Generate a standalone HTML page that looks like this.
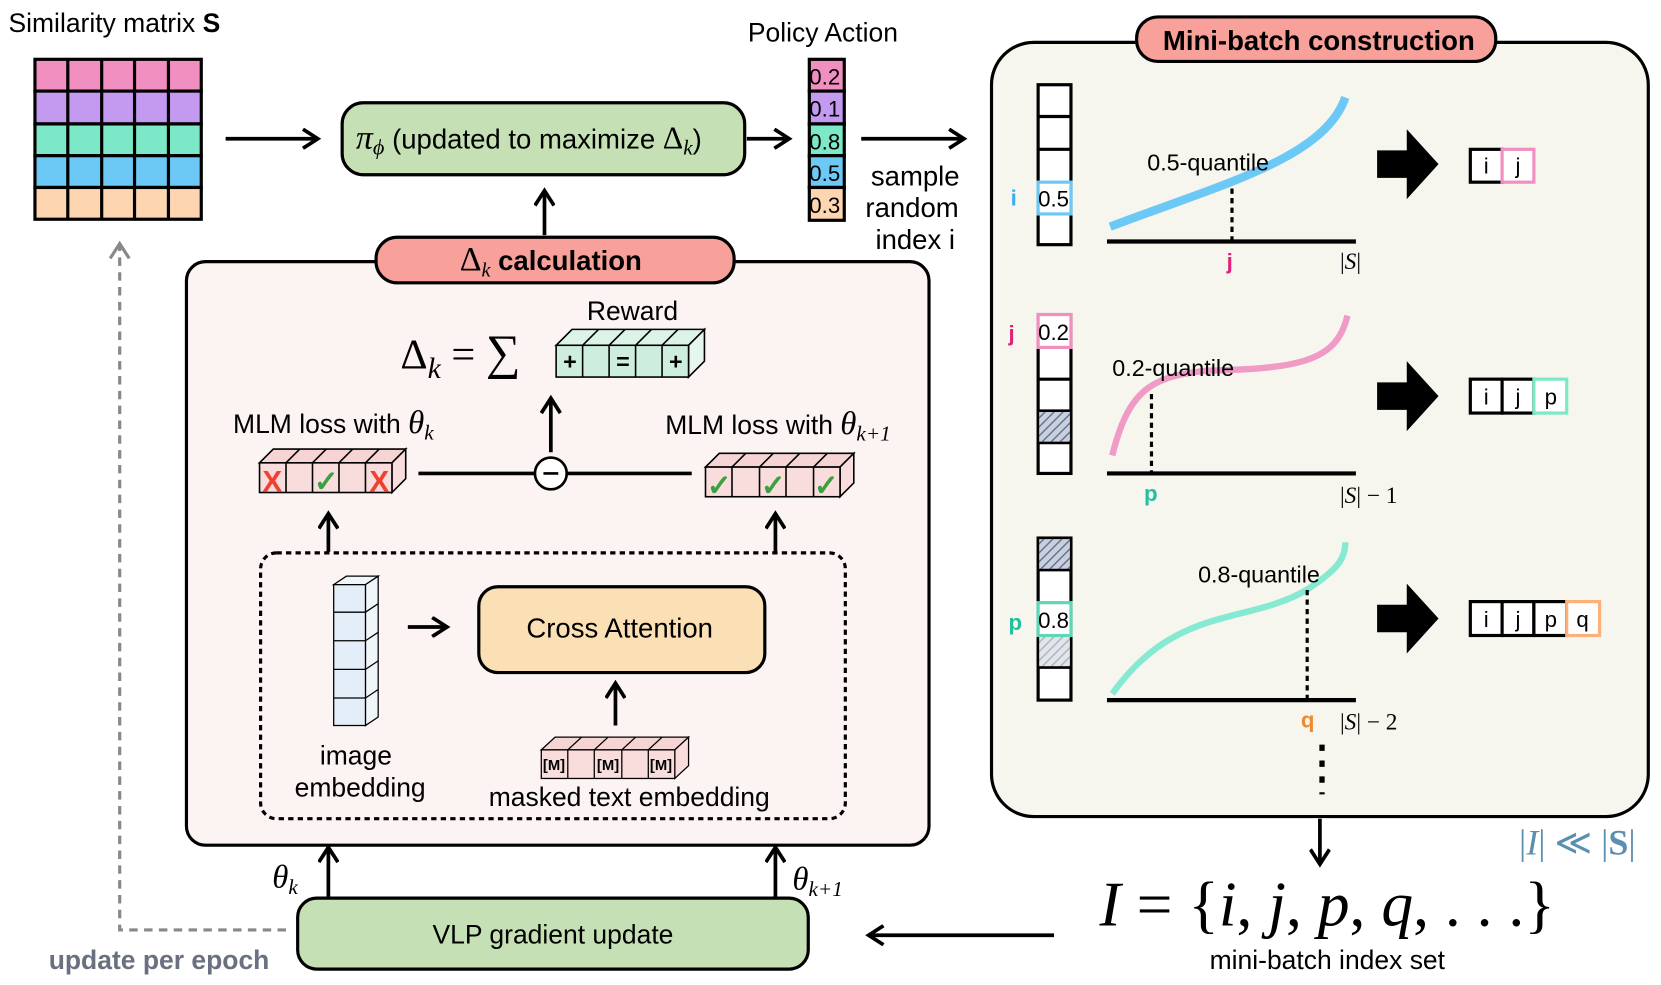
<!DOCTYPE html>
<html><head><meta charset="utf-8"><style>
html,body{margin:0;padding:0;background:#fff;width:1661px;height:985px;overflow:hidden}
svg{display:block}
text{font-family:"Liberation Sans",sans-serif;fill:#000}
.m{font-family:"Liberation Serif",serif}
</style></head><body>
<svg width="1661" height="985" viewBox="0 0 1568 930" preserveAspectRatio="none" xmlns="http://www.w3.org/2000/svg">
<defs>
<marker id="ah" viewBox="0 0 20 20" refX="14" refY="10" markerWidth="20" markerHeight="20" markerUnits="userSpaceOnUse" orient="auto"><path d="M2,1 L16,10 L2,19" fill="none" stroke="#000" stroke-width="3.5"/></marker>
<marker id="ahg" viewBox="0 0 20 20" refX="14" refY="10" markerWidth="20" markerHeight="20" markerUnits="userSpaceOnUse" orient="auto"><path d="M2,1 L16,10 L2,19" fill="none" stroke="#888" stroke-width="3"/></marker>
<pattern id="hat" width="6" height="6" patternUnits="userSpaceOnUse" patternTransform="rotate(45)"><rect width="6" height="6" fill="#c9cfdc"/><line x1="0" y1="0" x2="0" y2="6" stroke="#5a6a8a" stroke-width="2.5"/></pattern>
<pattern id="hat2" width="6" height="6" patternUnits="userSpaceOnUse" patternTransform="rotate(45)"><rect width="6" height="6" fill="#e2e5ea"/><line x1="0" y1="0" x2="0" y2="6" stroke="#a8afbd" stroke-width="2.5"/></pattern>
</defs>

<!-- Similarity matrix -->
<text x="8" y="30" font-size="25">Similarity matrix <tspan font-weight="bold">S</tspan></text>
<g stroke="#000" stroke-width="3">
<rect x="33" y="56" width="157" height="30" fill="#f08fc0"/>
<rect x="33" y="86" width="157" height="31" fill="#c49af0"/>
<rect x="33" y="117" width="157" height="30" fill="#7de8c8"/>
<rect x="33" y="147" width="157" height="30" fill="#6cc8f5"/>
<rect x="33" y="177" width="157" height="30" fill="#fdd5b0"/>
<line x1="64" y1="56" x2="64" y2="207"/><line x1="96" y1="56" x2="96" y2="207"/><line x1="127" y1="56" x2="127" y2="207"/><line x1="159" y1="56" x2="159" y2="207"/>
</g>
<line x1="213" y1="131" x2="298" y2="131" stroke="#000" stroke-width="3.5" marker-end="url(#ah)"/>

<!-- policy box -->
<rect x="323" y="97" width="380" height="68" rx="20" fill="#c5e0b4" stroke="#000" stroke-width="3"/>
<text x="336" y="140" font-size="26"><tspan class="m" font-style="italic" font-size="32">π</tspan><tspan class="m" font-style="italic" font-size="21" dy="6">ϕ</tspan><tspan dy="-6"> (updated to maximize </tspan><tspan class="m" font-size="30">Δ</tspan><tspan class="m" font-style="italic" font-size="20" dy="6">k</tspan><tspan dy="-6">)</tspan></text>
<line x1="705" y1="131" x2="743" y2="131" stroke="#000" stroke-width="3.5" marker-end="url(#ah)"/>

<text x="706" y="39" font-size="25">Policy Action</text>
<g stroke="#000" stroke-width="3">
<rect x="764" y="56" width="33" height="30" fill="#f08fc0"/>
<rect x="764" y="86" width="33" height="31" fill="#c49af0"/>
<rect x="764" y="117" width="33" height="30" fill="#7de8c8"/>
<rect x="764" y="147" width="33" height="30" fill="#6cc8f5"/>
<rect x="764" y="177" width="33" height="31" fill="#fdd5b0"/>
</g>
<g font-size="21"><text x="764" y="80">0.2</text><text x="764" y="110">0.1</text><text x="764" y="141">0.8</text><text x="764" y="171">0.5</text><text x="764" y="201">0.3</text></g>
<line x1="813" y1="131" x2="908" y2="131" stroke="#000" stroke-width="3.5" marker-end="url(#ah)"/>
<g font-size="26" text-anchor="middle"><text x="864" y="175">sample</text><text x="861" y="205">random</text><text x="864" y="235">index i</text></g>

<!-- left big box -->
<line x1="514" y1="222" x2="514" y2="182" stroke="#000" stroke-width="3.5" marker-end="url(#ah)"/>
<rect x="176" y="247" width="701" height="551" rx="18" fill="#fbf4f3" stroke="#000" stroke-width="3"/>
<rect x="355" y="224" width="338" height="43" rx="20" fill="#f8a09a" stroke="#000" stroke-width="3"/>
<text x="434" y="255" font-size="26" font-weight="bold"><tspan class="m" font-weight="normal" font-size="32">Δ</tspan><tspan class="m" font-weight="normal" font-style="italic" font-size="19" dy="6">k</tspan><tspan dy="-6"> calculation</tspan></text>

<text x="554" y="302" font-size="25">Reward</text>
<text x="378" y="348" class="m" font-size="40">Δ<tspan font-style="italic" font-size="28" dy="9">k</tspan><tspan dy="-9"> = </tspan><tspan font-size="46">∑</tspan></text>
<!-- reward block -->
<g stroke="#000" stroke-width="1.5">
<polygon points="525,326 540,311 665,311 650,326" fill="#dcf3e8"/>
<polygon points="650,326 665,311 665,341 650,356" fill="#e4f6ee"/>
<rect x="525" y="326" width="125" height="30" fill="#cdeedd"/>
<line x1="550" y1="326" x2="550" y2="356"/><line x1="575" y1="326" x2="575" y2="356"/><line x1="600" y1="326" x2="600" y2="356"/><line x1="625" y1="326" x2="625" y2="356"/>
<line x1="550" y1="326" x2="565" y2="311"/><line x1="575" y1="326" x2="590" y2="311"/><line x1="600" y1="326" x2="615" y2="311"/><line x1="625" y1="326" x2="640" y2="311"/>
</g>
<g font-size="22" font-weight="bold" text-anchor="middle"><text x="538" y="349">+</text><text x="588" y="349">=</text><text x="638" y="349">+</text></g>
<line x1="520" y1="427" x2="520" y2="378" stroke="#000" stroke-width="3.5" marker-end="url(#ah)"/>

<text x="220" y="409" font-size="25">MLM loss with <tspan class="m" font-style="italic" font-size="31">θ</tspan><tspan class="m" font-style="italic" font-size="20" dy="6">k</tspan></text>
<text x="628" y="410" font-size="25">MLM loss with <tspan class="m" font-style="italic" font-size="31">θ</tspan><tspan class="m" font-style="italic" font-size="20" dy="6">k+1</tspan></text>

<!-- left MLM block -->
<g stroke="#000" stroke-width="1.5">
<polygon points="245,437 258,424 383,424 370,437" fill="#f7d4d4"/>
<polygon points="370,437 383,424 383,452 370,465" fill="#f9dcdc"/>
<rect x="245" y="437" width="125" height="28" fill="#f9dcdc"/>
<line x1="270" y1="437" x2="270" y2="465"/><line x1="295" y1="437" x2="295" y2="465"/><line x1="320" y1="437" x2="320" y2="465"/><line x1="345" y1="437" x2="345" y2="465"/>
<line x1="270" y1="437" x2="283" y2="424"/><line x1="295" y1="437" x2="308" y2="424"/><line x1="320" y1="437" x2="333" y2="424"/><line x1="345" y1="437" x2="358" y2="424"/>
</g>
<g font-size="28" font-weight="bold" text-anchor="middle"><text x="257" y="464" style="fill:#f04030">X</text><text x="358" y="464" style="fill:#f04030">X</text><text x="308" y="464" style="fill:#3aa040">✓</text></g>
<!-- right MLM block -->
<g stroke="#000" stroke-width="1.5">
<polygon points="666,441 679,428 806,428 793,441" fill="#f7d4d4"/>
<polygon points="793,441 806,428 806,456 793,469" fill="#f9dcdc"/>
<rect x="666" y="441" width="127" height="28" fill="#f9dcdc"/>
<line x1="691" y1="441" x2="691" y2="469"/><line x1="717" y1="441" x2="717" y2="469"/><line x1="742" y1="441" x2="742" y2="469"/><line x1="768" y1="441" x2="768" y2="469"/>
<line x1="691" y1="441" x2="704" y2="428"/><line x1="717" y1="441" x2="730" y2="428"/><line x1="742" y1="441" x2="755" y2="428"/><line x1="768" y1="441" x2="781" y2="428"/>
</g>
<g font-size="28" font-weight="bold" text-anchor="middle"><text x="679" y="468" style="fill:#3aa040">✓</text><text x="730" y="468" style="fill:#3aa040">✓</text><text x="780" y="468" style="fill:#3aa040">✓</text></g>

<line x1="395" y1="447" x2="505" y2="447" stroke="#000" stroke-width="3.5"/>
<line x1="535" y1="447" x2="653" y2="447" stroke="#000" stroke-width="3.5"/>
<circle cx="520" cy="447" r="15" fill="#fff" stroke="#000" stroke-width="2.5"/>
<line x1="513" y1="447" x2="527" y2="447" stroke="#000" stroke-width="2.5"/>

<line x1="310" y1="521" x2="310" y2="487" stroke="#000" stroke-width="3.5" marker-end="url(#ah)"/>
<line x1="732" y1="521" x2="732" y2="487" stroke="#000" stroke-width="3.5" marker-end="url(#ah)"/>
<rect x="246" y="522" width="552" height="251" rx="15" fill="none" stroke="#000" stroke-width="3" stroke-dasharray="5,4"/>

<!-- image embedding column -->
<g stroke="#000" stroke-width="1.2">
<polygon points="315,552 327,544 357,544 345,552" fill="#f0f5fa"/>
<polygon points="345,552 357,544 357,677 345,685" fill="#f0f5fa"/>
<rect x="315" y="552" width="30" height="133" fill="#e3eef8"/>
<line x1="315" y1="578" x2="345" y2="578"/><line x1="315" y1="605" x2="345" y2="605"/><line x1="315" y1="632" x2="345" y2="632"/><line x1="315" y1="659" x2="345" y2="659"/>
<line x1="345" y1="578" x2="357" y2="570"/><line x1="345" y1="605" x2="357" y2="597"/><line x1="345" y1="632" x2="357" y2="624"/><line x1="345" y1="659" x2="357" y2="651"/>
</g>
<text x="336" y="722" font-size="25" text-anchor="middle">image</text>
<text x="340" y="752" font-size="25" text-anchor="middle">embedding</text>
<line x1="385" y1="592" x2="420" y2="592" stroke="#000" stroke-width="3.5" marker-end="url(#ah)"/>
<rect x="452" y="554" width="270" height="81" rx="18" fill="#fce0b5" stroke="#000" stroke-width="3"/>
<text x="585" y="602" font-size="26" text-anchor="middle">Cross Attention</text>
<line x1="581" y1="685" x2="581" y2="647" stroke="#000" stroke-width="3.5" marker-end="url(#ah)"/>
<!-- masked text block -->
<g stroke="#000" stroke-width="1.2">
<polygon points="511,708 524,696 650,696 637,708" fill="#f7d4d4"/>
<polygon points="637,708 650,696 650,723 637,735" fill="#f9dcdc"/>
<rect x="511" y="708" width="126" height="27" fill="#f9dcdc"/>
<line x1="536" y1="708" x2="536" y2="735"/><line x1="561" y1="708" x2="561" y2="735"/><line x1="587" y1="708" x2="587" y2="735"/><line x1="612" y1="708" x2="612" y2="735"/>
<line x1="536" y1="708" x2="549" y2="696"/><line x1="561" y1="708" x2="574" y2="696"/><line x1="587" y1="708" x2="600" y2="696"/><line x1="612" y1="708" x2="625" y2="696"/>
</g>
<g font-size="14" font-weight="bold" text-anchor="middle"><text x="523" y="727">[M]</text><text x="574" y="727">[M]</text><text x="624" y="727">[M]</text></g>
<text x="594" y="761" font-size="25" text-anchor="middle">masked text embedding</text>

<!-- bottom -->
<line x1="310" y1="848" x2="310" y2="802" stroke="#000" stroke-width="3.5" marker-end="url(#ah)"/>
<line x1="732" y1="848" x2="732" y2="802" stroke="#000" stroke-width="3.5" marker-end="url(#ah)"/>
<text x="257" y="838" class="m" font-style="italic" font-size="31">θ<tspan font-size="20" dy="6">k</tspan></text>
<text x="748" y="840" class="m" font-style="italic" font-size="31">θ<tspan font-size="20" dy="6">k+1</tspan></text>
<rect x="281" y="848" width="482" height="67" rx="18" fill="#c5e0b4" stroke="#000" stroke-width="3"/>
<text x="522" y="891" font-size="25" text-anchor="middle">VLP gradient update</text>
<polyline points="270,878 113,878 113,232" fill="none" stroke="#888" stroke-width="3" stroke-dasharray="8,6" marker-end="url(#ahg)"/>
<text x="46" y="915" font-size="25" font-weight="bold" style="fill:#6b7080">update per epoch</text>
<line x1="995" y1="883" x2="822" y2="883" stroke="#000" stroke-width="3.5" marker-end="url(#ah)"/>

<!-- right panel -->
<rect x="936" y="40" width="620" height="731" rx="40" fill="#f6f6ee" stroke="#000" stroke-width="3"/>
<rect x="1073" y="16" width="339" height="42" rx="20" fill="#f8a09a" stroke="#000" stroke-width="3"/>
<text x="1245" y="47" font-size="26" font-weight="bold" text-anchor="middle">Mini-batch construction</text>

<!-- section 1 -->
<g stroke="#000" stroke-width="3" fill="#fff">
<rect x="980" y="80" width="31" height="151"/>
<line x1="980" y1="110" x2="1011" y2="110"/><line x1="980" y1="141" x2="1011" y2="141"/><line x1="980" y1="202" x2="1011" y2="202"/>
</g>
<rect x="980" y="172" width="31" height="30" fill="#fff" stroke="#6cc8f5" stroke-width="3"/>
<text x="980" y="195" font-size="21">0.5</text>
<text x="954" y="194" font-size="21" font-weight="bold" style="fill:#3ab0f0">i</text>
<path d="M1048,214 C1150,175 1250,150 1270,92" fill="none" stroke="#6cc8f5" stroke-width="8"/>
<line x1="1045" y1="228" x2="1280" y2="228" stroke="#000" stroke-width="4"/>
<line x1="1163" y1="178" x2="1163" y2="228" stroke="#000" stroke-width="3" stroke-dasharray="5,4"/>
<text x="1083" y="161" font-size="22">0.5-quantile</text>
<text x="1158" y="254" font-size="21" font-weight="bold" style="fill:#e0207a">j</text>
<text x="1265" y="254" class="m" font-size="22">|<tspan font-style="italic">S</tspan>|</text>
<polygon points="1300,142 1328,142 1328,122 1358,155 1328,188 1328,168 1300,168" fill="#000"/>
<rect x="1388" y="141" width="30" height="31" fill="#fff" stroke="#000" stroke-width="3"/>
<rect x="1418" y="141" width="30" height="31" fill="#fff" stroke="#f08fc0" stroke-width="3"/>
<text x="1403" y="164" font-size="21" text-anchor="middle">i</text><text x="1433" y="164" font-size="21" text-anchor="middle">j</text>

<!-- section 2 -->
<g stroke="#000" stroke-width="3" fill="#fff">
<rect x="980" y="297" width="31" height="150"/>
<line x1="980" y1="358" x2="1011" y2="358"/><line x1="980" y1="388" x2="1011" y2="388"/><line x1="980" y1="418" x2="1011" y2="418"/>
</g>
<rect x="981" y="389" width="29" height="28" fill="url(#hat)"/>
<rect x="980" y="297" width="31" height="31" fill="#fff" stroke="#f08fc0" stroke-width="3"/>
<text x="980" y="321" font-size="21">0.2</text>
<text x="952" y="322" font-size="21" font-weight="bold" style="fill:#e0207a">j</text>
<path d="M1050,430 C1065,370 1085,355 1140,350 C1230,348 1262,340 1272,298" fill="none" stroke="#f09ac6" stroke-width="6"/>
<line x1="1045" y1="447" x2="1280" y2="447" stroke="#000" stroke-width="4"/>
<line x1="1087" y1="372" x2="1087" y2="447" stroke="#000" stroke-width="3" stroke-dasharray="5,4"/>
<text x="1050" y="355" font-size="22">0.2-quantile</text>
<text x="1080" y="473" font-size="21" font-weight="bold" style="fill:#20c0a0">p</text>
<text x="1265" y="475" class="m" font-size="22">|<tspan font-style="italic">S</tspan>| − 1</text>
<polygon points="1300,361 1328,361 1328,341 1358,374 1328,407 1328,387 1300,387" fill="#000"/>
<rect x="1388" y="358" width="30" height="32" fill="#fff" stroke="#000" stroke-width="3"/>
<rect x="1418" y="358" width="30" height="32" fill="#fff" stroke="#000" stroke-width="3"/>
<rect x="1448" y="358" width="31" height="32" fill="#fff" stroke="#7de8c8" stroke-width="3"/>
<text x="1403" y="382" font-size="21" text-anchor="middle">i</text><text x="1433" y="382" font-size="21" text-anchor="middle">j</text><text x="1464" y="382" font-size="21" text-anchor="middle">p</text>

<!-- section 3 -->
<g stroke="#000" stroke-width="3" fill="#fff">
<rect x="980" y="508" width="31" height="153"/>
<line x1="980" y1="538" x2="1011" y2="538"/><line x1="980" y1="630" x2="1011" y2="630"/>
</g>
<rect x="981" y="509" width="29" height="28" fill="url(#hat)"/>
<rect x="981" y="600" width="29" height="29" fill="url(#hat2)"/>
<rect x="980" y="569" width="31" height="31" fill="#fff" stroke="#5cd8b8" stroke-width="3"/>
<text x="980" y="593" font-size="21">0.8</text>
<text x="952" y="595" font-size="21" font-weight="bold" style="fill:#20c0a0">p</text>
<path d="M1050,655 C1110,570 1180,590 1235,556 C1262,538 1270,528 1270,512" fill="none" stroke="#86ead2" stroke-width="6"/>
<line x1="1045" y1="661" x2="1280" y2="661" stroke="#000" stroke-width="4"/>
<line x1="1234" y1="557" x2="1234" y2="661" stroke="#000" stroke-width="3" stroke-dasharray="5,4"/>
<text x="1131" y="550" font-size="22">0.8-quantile</text>
<text x="1228" y="687" font-size="21" font-weight="bold" style="fill:#f08a30">q</text>
<text x="1265" y="689" class="m" font-size="22">|<tspan font-style="italic">S</tspan>| − 2</text>
<polygon points="1300,571 1328,571 1328,551 1358,584 1328,617 1328,597 1300,597" fill="#000"/>
<rect x="1388" y="568" width="30" height="32" fill="#fff" stroke="#000" stroke-width="3"/>
<rect x="1418" y="568" width="30" height="32" fill="#fff" stroke="#000" stroke-width="3"/>
<rect x="1448" y="568" width="31" height="32" fill="#fff" stroke="#000" stroke-width="3"/>
<rect x="1479" y="568" width="31" height="32" fill="#fff" stroke="#fdb07a" stroke-width="3"/>
<text x="1403" y="592" font-size="21" text-anchor="middle">i</text><text x="1433" y="592" font-size="21" text-anchor="middle">j</text><text x="1464" y="592" font-size="21" text-anchor="middle">p</text><text x="1494" y="592" font-size="21" text-anchor="middle">q</text>

<line x1="1248" y1="703" x2="1248" y2="750" stroke="#000" stroke-width="5" stroke-dasharray="6,9"/>
<line x1="1246" y1="773" x2="1246" y2="814" stroke="#000" stroke-width="3.5" marker-end="url(#ah)"/>
<text x="1434" y="807" class="m" font-size="34" style="fill:#5b8fb0">|<tspan font-style="italic">I</tspan>| ≪ |<tspan font-weight="bold">S</tspan>|</text>
<text x="1038" y="874" class="m" font-size="60"><tspan font-style="italic">I</tspan> = {<tspan font-style="italic">i</tspan>, <tspan font-style="italic">j</tspan>, <tspan font-style="italic">p</tspan>, <tspan font-style="italic">q</tspan>, . . .}</text>
<text x="1253" y="915" font-size="25" text-anchor="middle">mini-batch index set</text>
</svg>
</body></html>
